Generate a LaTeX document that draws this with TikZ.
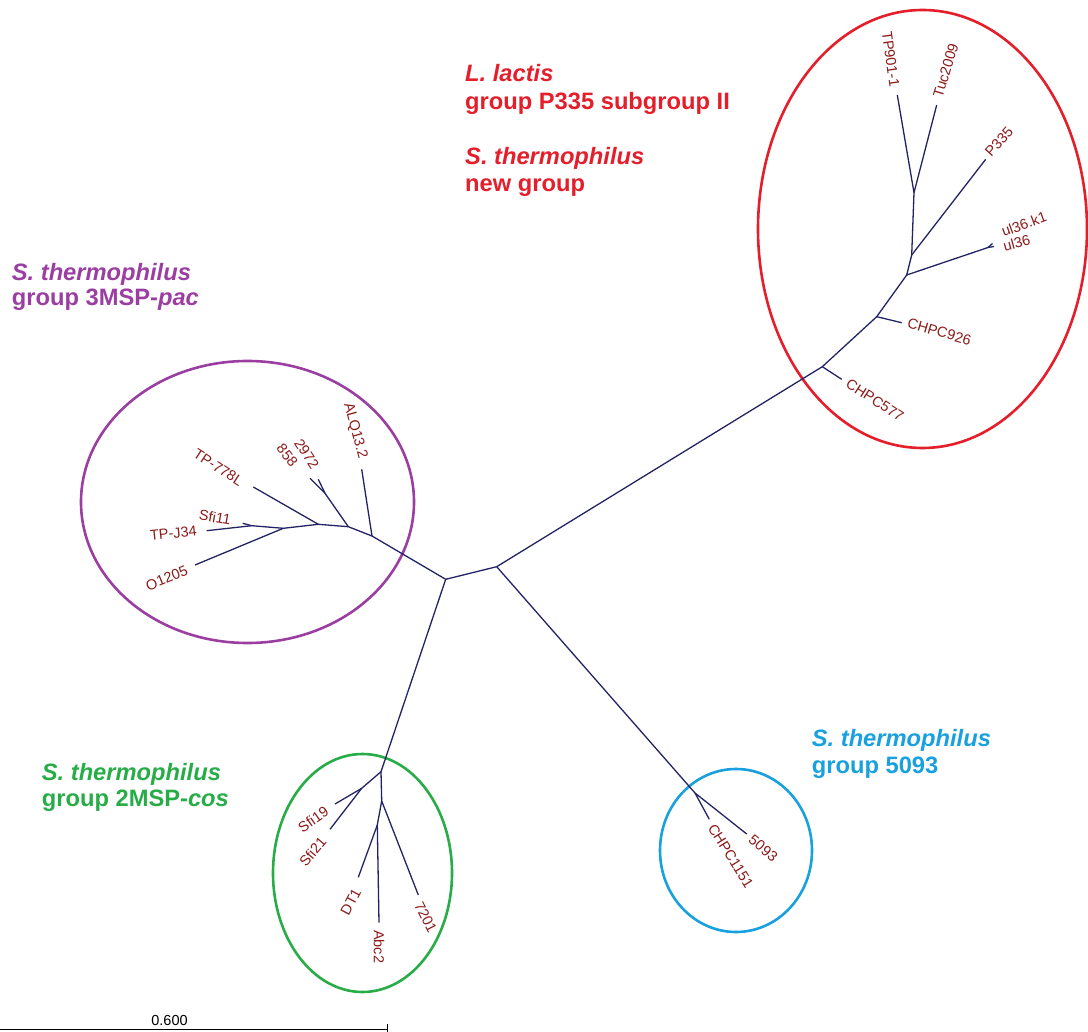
\documentclass[tikz,border=0pt]{standalone}
\usepackage{fontspec}
\setmainfont{Liberation Sans}
\definecolor{treeblue}{RGB}{35,35,100}
\definecolor{leafred}{RGB}{140,25,25}
\definecolor{grpred}{RGB}{228,30,42}
\definecolor{grppurple}{RGB}{155,62,162}
\definecolor{grpgreen}{RGB}{40,172,72}
\definecolor{grpblue}{RGB}{25,160,222}
\begin{document}
\begin{tikzpicture}[x=1pt,y=-1pt,
  branch/.style={draw=treeblue,line width=1.3pt},
  leaf/.style={text=leafred,inner sep=0pt,font=\fontsize{14.5}{16}\selectfont},
  hdr/.style={anchor=base west,inner sep=0pt,font=\fontsize{23.7}{27}\selectfont\bfseries},
  ring/.style={line width=2.6pt}]
\useasboundingbox (0,0) rectangle (1088,1032);
% ellipses
\draw[ring,grpred] (922.5,229) ellipse [x radius=164.5pt,y radius=219pt];
\draw[ring,grppurple] (247.5,502) ellipse [x radius=166.5pt,y radius=141pt];
\draw[ring,grpgreen] (362.5,873) ellipse [x radius=89.5pt,y radius=119pt];
\draw[ring,grpblue] (736,850.5) ellipse [x radius=76pt,y radius=81.5pt];
% tree coordinates
\coordinate (A) at (445.7,579.3);
\coordinate (B) at (496.7,566.7);
\coordinate (R1) at (822.3,366.7);
\coordinate (L577) at (841.7,379.3);
\coordinate (R2) at (876.7,316.7);
\coordinate (L926) at (901.7,322.7);
\coordinate (R3) at (906.7,275);
\coordinate (Rul) at (988,247.5);
\coordinate (Lul) at (994,246.5);
\coordinate (Lulk) at (992.5,243.5);
\coordinate (R4) at (911.7,255);
\coordinate (LP) at (985.7,159.3);
\coordinate (R5) at (914,192.7);
\coordinate (LTP) at (897.3,95);
\coordinate (LTuc) at (936.7,105);
\coordinate (P1) at (372,536);
\coordinate (LALQ) at (361.7,469.3);
\coordinate (P2) at (348.3,526.7);
\coordinate (P2a) at (325,493.3);
\coordinate (L858) at (310,478.3);
\coordinate (L2972) at (318.3,479.3);
\coordinate (P3) at (318.3,524.3);
\coordinate (L778) at (253.3,487);
\coordinate (P4) at (283.3,528.3);
\coordinate (LO) at (195,565);
\coordinate (P5) at (251.7,525.7);
\coordinate (LSfi11) at (242.7,523.3);
\coordinate (LTPJ) at (206.7,530.7);
\coordinate (G1) at (381,771.7);
\coordinate (G2) at (361.7,788.3);
\coordinate (LSfi19) at (335,804);
\coordinate (LSfi21) at (330,829.3);
\coordinate (G3) at (381.7,801);
\coordinate (L7201) at (418.3,895);
\coordinate (G4) at (377.3,825);
\coordinate (LDT1) at (358.3,877.3);
\coordinate (LAbc) at (379,922.7);
\coordinate (C1) at (695,793);
\coordinate (L1151) at (709.3,819.3);
\coordinate (L5093) at (746.7,834);
% branches
\path[branch] (A) -- (B);
\path[branch] (B) -- (R1) -- (R2) -- (R3) -- (R4) -- (R5) -- (LTP);
\path[branch] (R5) -- (LTuc);
\path[branch] (R4) -- (LP);
\path[branch] (R3) -- (Rul) -- (Lul);
\path[branch] (Rul) -- (Lulk);
\path[branch] (R2) -- (L926);
\path[branch] (R1) -- (L577);
\path[branch] (A) -- (P1) -- (P2) -- (P3) -- (P4) -- (P5) -- (LTPJ);
\path[branch] (P5) -- (LSfi11);
\path[branch] (P4) -- (LO);
\path[branch] (P3) -- (L778);
\path[branch] (P2) -- (P2a) -- (L858);
\path[branch] (P2a) -- (L2972);
\path[branch] (P1) -- (LALQ);
\path[branch] (A) -- (G1) -- (G2) -- (LSfi19);
\path[branch] (G2) -- (LSfi21);
\path[branch] (G1) -- (G3) -- (L7201);
\path[branch] (G3) -- (G4) -- (LDT1);
\path[branch] (G4) -- (LAbc);
\path[branch] (B) -- (C1) -- (L1151);
\path[branch] (C1) -- (L5093);
% leaf labels
\node[leaf,rotate=-82] (tTP) at (890.7,59.3) {TP901-1};
\node[leaf,rotate=73] (tTuc) at (945.7,70.7) {Tuc2009};
\node[leaf,rotate=48] (tP) at (999,141.7) {P335};
\node[leaf,rotate=20] (tulk) at (1024,224) {ul36.k1};
\node[leaf,rotate=15] (tul) at (1016.7,243.3) {ul36};
\node[leaf,rotate=-16] (t926) at (939.3,331.7) {CHPC926};
\node[leaf,rotate=-33] (t577) at (875,400) {CHPC577};
\node[leaf,rotate=-75] (tALQ) at (355,430.7) {ALQ13.2};
\node[leaf,rotate=-57] (t2972) at (306.7,454) {2972};
\node[leaf,rotate=-52] (t858) at (287.3,455.3) {858};
\node[leaf,rotate=-33] (t778) at (218.3,467.3) {TP-778L};
\node[leaf,rotate=-10] (tSfi11) at (215,517.3) {Sfi11};
\node[leaf,rotate=6] (tTPJ) at (173.3,533.3) {TP-J34};
\node[leaf,rotate=22] (tO) at (166.7,578.3) {O1205};
\node[leaf,rotate=35] (tSfi19) at (313.3,819.3) {Sfi19};
\node[leaf,rotate=50] (tSfi21) at (312.7,851.7) {Sfi21};
\node[leaf,rotate=62] (tDT1) at (350.7,901.7) {DT1};
\node[leaf,rotate=-90] (tAbc) at (379,946.7) {Abc2};
\node[leaf,rotate=-63] (t7201) at (425.7,917.3) {7201};
\node[leaf,rotate=-58] (t1151) at (730.7,856) {CHPC1151};
\node[leaf,rotate=-40] (t5093) at (763.3,848.3) {5093};
% group headers
\node[hdr,text=grpred] (h1) at (465,81.7) {\itshape L. lactis};
\node[hdr,text=grpred] (h2) at (465,109.5) {group P335 subgroup II};
\node[hdr,text=grpred] (h3) at (465,165) {\itshape S. thermophilus};
\node[hdr,text=grpred] (h4) at (465,191.5) {new group};
\node[hdr,text=grppurple] (h5) at (11.7,281) {\itshape S. thermophilus};
\node[hdr,text=grppurple] (h6) at (11.7,306) {group 3MSP-\textit{pac}};
\node[hdr,text=grpgreen] (h7) at (41.7,780) {\itshape S. thermophilus};
\node[hdr,text=grpgreen] (h8) at (41.7,806.7) {group 2MSP-\textit{cos}};
\node[hdr,text=grpblue] (h9) at (811.7,746) {\itshape S. thermophilus};
\node[hdr,text=grpblue] (h10) at (811.7,773) {group 5093};
% scale bar
\coordinate (s0) at (0,1029.3);
\coordinate (s1) at (387.7,1029.3);
\coordinate (s1t) at (387.7,1024);
\coordinate (s1b) at (387.7,1033);
\draw[line width=1pt,black] (s0) -- (s1);
\draw[line width=1pt,black] (s1t) -- (s1b);
\node[inner sep=0pt,anchor=base,font=\fontsize{14.5}{16}\selectfont] (scl) at (169.5,1025) {0.600};
\end{tikzpicture}
\end{document}
